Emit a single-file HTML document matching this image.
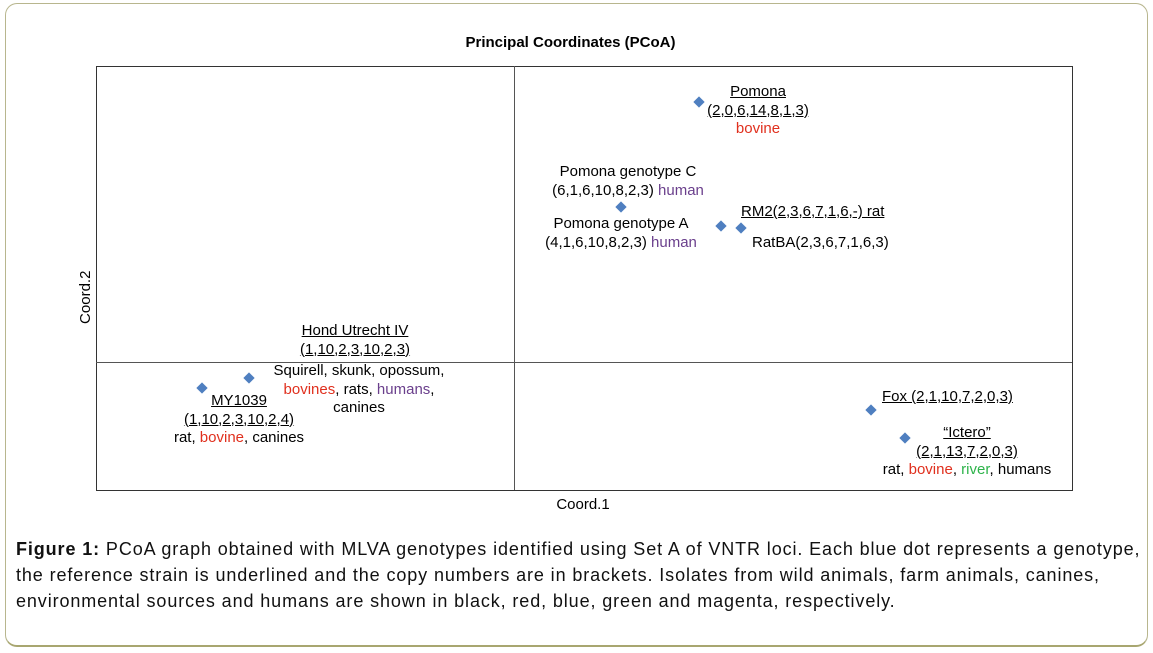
<!DOCTYPE html>
<html><head><meta charset="utf-8"><style>
body{margin:0;width:1153px;height:653px;background:#fff;position:relative;overflow:hidden;font-family:"Liberation Sans",Arial,sans-serif;}
.frame{position:absolute;left:5px;top:3px;width:1141px;height:641px;border:1px solid #b8b68e;border-bottom:2px solid #a8a670;border-radius:12px;}
.plot{position:absolute;left:96px;top:66px;width:975px;height:423px;border:1px solid #333;}
.t{position:absolute;font-size:15px;color:#000;white-space:nowrap;line-height:18.5px;text-align:center;}
.c{width:300px;}
.u{text-decoration:underline;}
.r{color:#e0301e}.p{color:#6a3f8c}.g{color:#2db34a}
.d{position:absolute;width:8px;height:8px;background:#4f7fc0;transform:rotate(45deg);}
.cap{position:absolute;left:16px;top:536px;font-size:18px;letter-spacing:0.89px;line-height:26px;color:#111;white-space:nowrap;}
</style></head><body>
<div class="frame"></div>
<div class="t" style="left:0;width:1141px;top:34px;font-weight:bold;font-size:15px">Principal Coordinates (PCoA)</div>
<div class="plot"></div>
<div style="position:absolute;left:514px;top:66px;width:1px;height:424px;background:#555"></div>
<div style="position:absolute;left:96px;top:362px;width:976px;height:1px;background:#555"></div>
<div class="t" style="left:533px;width:100px;top:496px">Coord.1</div>
<div class="t" style="left:36px;top:288px;transform:rotate(-90deg);width:100px">Coord.2</div>

<div class="d" style="left:695px;top:98px"></div>
<div class="t c" style="left:608px;top:83px"><span class="u">Pomona<br>(2,0,6,14,8,1,3)</span><br><span class="r">bovine</span></div>

<div class="t c" style="left:478px;top:163px">Pomona genotype C<br>(6,1,6,10,8,2,3) <span class="p">human</span></div>
<div class="d" style="left:617px;top:203px"></div>
<div class="t c" style="left:471px;top:215px">Pomona genotype A<br>(4,1,6,10,8,2,3) <span class="p">human</span></div>
<div class="d" style="left:717px;top:222px"></div>
<div class="d" style="left:737px;top:224px"></div>
<div class="t u" style="left:741px;top:203px">RM2(2,3,6,7,1,6,-) rat</div>
<div class="t" style="left:752px;top:234px">RatBA(2,3,6,7,1,6,3)</div>

<div class="t u c" style="left:205px;top:322px">Hond Utrecht IV<br>(1,10,2,3,10,2,3)</div>
<div class="d" style="left:245px;top:374px"></div>
<div class="t c" style="left:209px;top:362px">Squirell, skunk, opossum,<br><span class="r">bovines</span>, rats, <span class="p">humans</span>,<br>canines</div>
<div class="d" style="left:198px;top:384px"></div>
<div class="t c" style="left:89px;top:392px"><span class="u">MY1039<br>(1,10,2,3,10,2,4)</span><br>rat, <span class="r">bovine</span>, canines</div>

<div class="d" style="left:867px;top:406px"></div>
<div class="t u" style="left:882px;top:388px">Fox (2,1,10,7,2,0,3)</div>
<div class="d" style="left:901px;top:434px"></div>
<div class="t c" style="left:817px;top:424px"><span class="u">“Ictero”<br>(2,1,13,7,2,0,3)</span><br>rat, <span class="r">bovine</span>, <span class="g">river</span>, humans</div>

<div class="cap"><b>Figure 1:</b> PCoA graph obtained with MLVA genotypes identified using Set A of VNTR loci. Each blue dot represents a genotype,<br>the reference strain is underlined and the copy numbers are in brackets. Isolates from wild animals, farm animals, canines,<br>environmental sources and humans are shown in black, red, blue, green and magenta, respectively.</div>
</body></html>
